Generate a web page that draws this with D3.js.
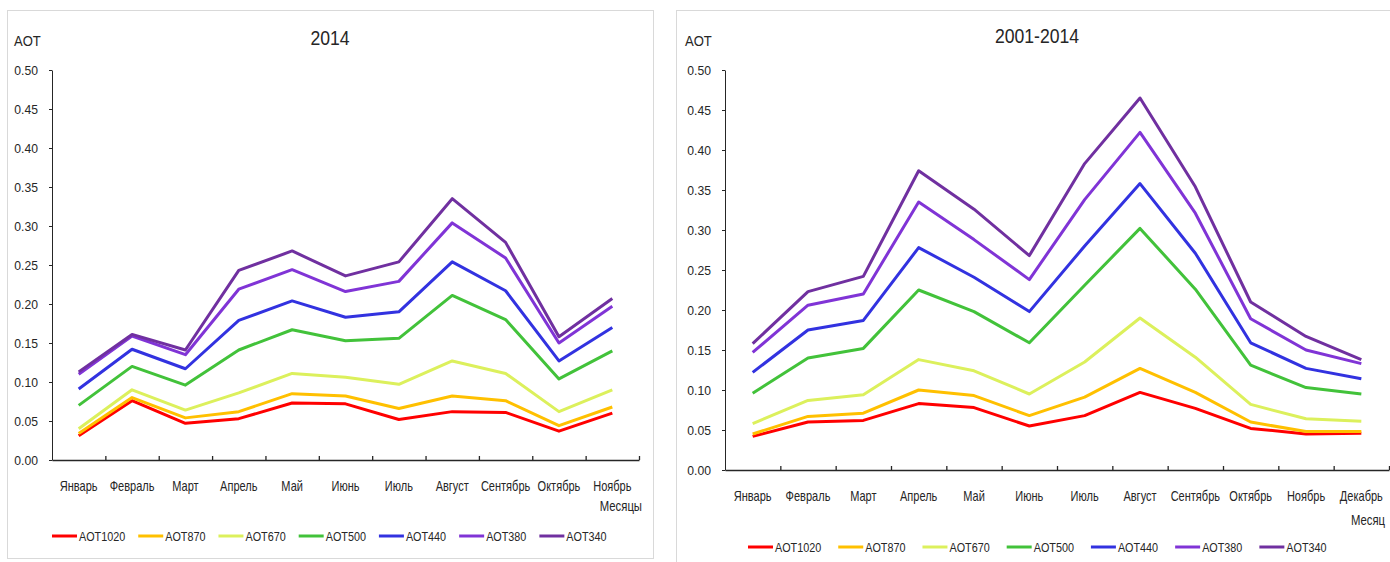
<!DOCTYPE html>
<html><head><meta charset="utf-8">
<script src="https://cdn.jsdelivr.net/npm/d3@7"></script>
<style>
body{margin:0;background:#fff;}
svg text{font-family:"Liberation Sans",Arial,sans-serif;fill:#262626;}
</style></head>
<body><svg id="c" width="1390" height="562"></svg>
<script>
const seriesNames = ["AOT1020","AOT870","AOT670","AOT500","AOT440","AOT380","AOT340"];
const seriesColors = ["#ff0000","#ffc000","#dcf05c","#42c23a","#3232e0","#8034d6","#7030a0"];

const months2014 = ["Январь","Февраль","Март","Апрель","Май","Июнь","Июль","Август","Сентябрь","Октябрь","Ноябрь"];
const aot1020_2014 = [0.031,0.076,0.047,0.053,0.073,0.072,0.052,0.062,0.061,0.037,0.060];
const aot870_2014  = [0.034,0.080,0.054,0.062,0.085,0.082,0.066,0.082,0.076,0.044,0.068];
const aot670_2014  = [0.040,0.090,0.064,0.086,0.111,0.106,0.097,0.127,0.111,0.062,0.090];
const aot500_2014  = [0.070,0.120,0.096,0.141,0.167,0.153,0.156,0.211,0.180,0.104,0.140];
const aot440_2014  = [0.091,0.142,0.117,0.179,0.204,0.183,0.190,0.254,0.217,0.127,0.170];
const aot380_2014  = [0.110,0.159,0.135,0.219,0.244,0.216,0.229,0.304,0.259,0.150,0.197];
const aot340_2014  = [0.113,0.161,0.141,0.243,0.268,0.236,0.254,0.335,0.279,0.158,0.207];

const monthsAll = ["Январь","Февраль","Март","Апрель","Май","Июнь","Июль","Август","Сентябрь","Октябрь","Ноябрь","Декабрь"];
const aot1020_all = [0.042,0.060,0.062,0.083,0.078,0.055,0.068,0.097,0.077,0.052,0.045,0.046];
const aot870_all  = [0.045,0.067,0.071,0.100,0.093,0.068,0.091,0.127,0.097,0.060,0.048,0.048];
const aot670_all  = [0.058,0.087,0.094,0.138,0.124,0.095,0.135,0.190,0.141,0.082,0.064,0.061];
const aot500_all  = [0.096,0.140,0.152,0.225,0.198,0.159,0.231,0.302,0.226,0.131,0.103,0.095];
const aot440_all  = [0.122,0.175,0.187,0.278,0.241,0.198,0.280,0.358,0.271,0.159,0.127,0.114];
const aot380_all  = [0.147,0.206,0.220,0.335,0.288,0.238,0.338,0.422,0.321,0.189,0.150,0.133];
const aot340_all  = [0.158,0.223,0.242,0.374,0.326,0.268,0.383,0.465,0.354,0.210,0.167,0.138];

const yTicks = [0.00,0.05,0.10,0.15,0.20,0.25,0.30,0.35,0.40,0.45,0.50];

const svg = d3.select("#c");

function squeeze(sel, f){
  sel.each(function(){
    const w = this.getComputedTextLength();
    d3.select(this).attr("textLength", w*f).attr("lengthAdjust","spacingAndGlyphs");
  });
}

function drawChart(cfg){
  const g = svg.append("g");
  g.append("rect").attr("x",cfg.panel[0]+0.5).attr("y",cfg.panel[1]+0.5)
    .attr("width",cfg.panel[2]).attr("height",cfg.panel[3])
    .attr("fill","#fff").attr("stroke","#d9d9d9").attr("stroke-width",1);

  const y = d3.scaleLinear().domain([0,0.5]).range([cfg.y0,cfg.y1]);
  const x = d3.scaleBand().domain(cfg.cats).range([cfg.x0,cfg.x1]);
  const xb = d3.scaleLinear().domain([0,cfg.cats.length]).range([cfg.x0,cfg.x1]);

  const ya = g.append("g").attr("transform",`translate(${cfg.x0},0)`)
    .call(d3.axisLeft(y).tickValues(yTicks).tickFormat(d3.format(".2f")).tickSize(3).tickSizeOuter(0).tickPadding(11));
  ya.selectAll("text").style("font-size","13.5px").attr("fill","#262626");
  ya.selectAll("line,path").attr("stroke","#262626");
  squeeze(ya.selectAll("text"), 0.9);

  const xa = g.append("g").attr("transform",`translate(0,${cfg.y0})`)
    .call(d3.axisBottom(xb).tickValues(d3.range(1,cfg.cats.length+1)).tickSize(-4).tickSizeOuter(0).tickFormat(""));
  xa.selectAll("line,path").attr("stroke","#262626").attr("stroke-width",1.3);

  const xl = g.append("g").attr("transform",`translate(0,${cfg.y0})`)
    .call(d3.axisBottom(x).tickSize(0).tickPadding(21));
  xl.select(".domain").remove();
  xl.selectAll("text").style("font-size","14.5px").attr("fill","#262626");
  squeeze(xl.selectAll("text"), 0.76);

  const tt = g.append("text").attr("x",cfg.titleX).attr("y",cfg.titleY).attr("text-anchor","middle")
    .style("font-size","20px").attr("fill","#111").text(cfg.title);
  squeeze(tt, 0.88);
  const at = g.append("text").attr("x",cfg.aotX).attr("y",46).style("font-size","15px").attr("fill","#111").text("AOT");
  squeeze(at, 0.87);
  const mt = g.append("text").attr("x",cfg.monthX).attr("y",cfg.monthY).attr("text-anchor","end")
    .style("font-size","14.5px").text(cfg.monthLabel);
  squeeze(mt, 0.78);

  const line = d3.line().x((d,i)=>x(cfg.cats[i])+x.bandwidth()/2).y(d=>y(d));
  cfg.series.forEach((s,k)=>{
    g.append("path").datum(s).attr("d",line).attr("fill","none")
      .attr("stroke",seriesColors[k]).attr("stroke-width",3).attr("stroke-linejoin","round");
  });

  let lx = cfg.legX;
  seriesNames.forEach((n,k)=>{
    g.append("line").attr("x1",lx).attr("x2",lx+25).attr("y1",cfg.legY).attr("y2",cfg.legY)
      .attr("stroke",seriesColors[k]).attr("stroke-width",3);
    const t = g.append("text").attr("x",lx+27).attr("y",cfg.legY+5).style("font-size","13.5px").text(n);
    const w = t.node().getComputedTextLength()*0.8;
    t.attr("textLength",w).attr("lengthAdjust","spacingAndGlyphs");
    lx += 27 + w + cfg.legGap;
  });
}

drawChart({panel:[7,10,646,548], x0:52, x1:639, y0:460, y1:70, cats:months2014,
  series:[aot1020_2014,aot870_2014,aot670_2014,aot500_2014,aot440_2014,aot380_2014,aot340_2014],
  title:"2014", titleX:330, titleY:45, aotX:14, monthLabel:"Месяцы", monthX:642, monthY:511,
  legX:52, legY:536, legGap:13});

drawChart({panel:[676,10,740,560], x0:725, x1:1389, y0:470, y1:70, cats:monthsAll,
  series:[aot1020_all,aot870_all,aot670_all,aot500_all,aot440_all,aot380_all,aot340_all],
  title:"2001-2014", titleX:1037, titleY:43, aotX:685, monthLabel:"Месяц", monthX:1385, monthY:525,
  legX:748, legY:547, legGap:17});
</script></body></html>
